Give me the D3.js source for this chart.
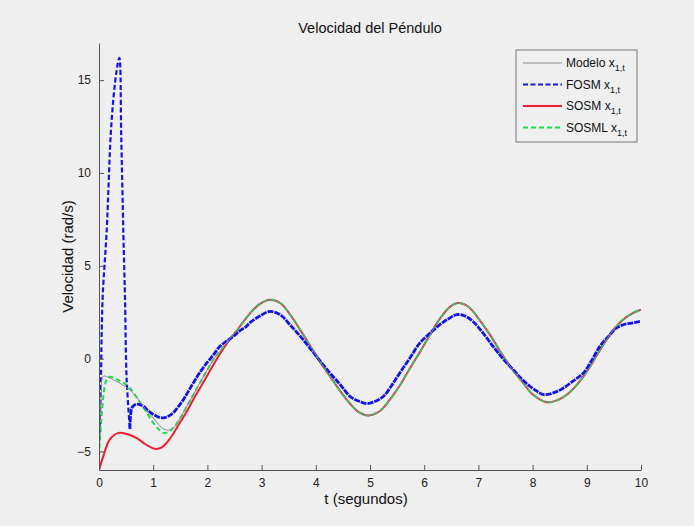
<!DOCTYPE html>
<html>
<head>
<meta charset="utf-8">
<script src="https://cdn.jsdelivr.net/npm/d3@7"></script>
<style>
  html, body { margin: 0; padding: 0; background: #efefef; }
  svg { display: block; font-family: "Liberation Sans", Arial, sans-serif; }
</style>
</head>
<body>
<svg id="chart" width="694" height="526"></svg>
<script>
// Pendulum angular velocity under four controllers (t in seconds, rad/s)
const modeloT = [0, 0.04, 0.08, 0.2, 0.4, 0.57, 0.7, 0.85, 1.0, 1.1, 1.2, 1.3, 1.4, 1.5, 1.62, 1.74, 1.86, 1.99, 2.11, 2.23, 2.38, 2.54, 2.79, 2.97, 3.155, 3.35, 3.52, 3.7, 3.89, 4.07, 4.26, 4.45, 4.63, 4.8, 4.97, 5.17, 5.37, 5.55, 5.74, 5.92, 6.11, 6.29, 6.48, 6.63, 6.82, 7.03, 7.22, 7.4, 7.58, 7.77, 8.01, 8.26, 8.45, 8.63, 8.82, 9.0, 9.18, 9.37, 9.52, 9.67, 9.85, 10.0];
const modeloV = [-4.5, -2.0, -0.95, -1.05, -1.35, -1.7, -2.1, -2.7, -3.2, -3.55, -3.8, -3.85, -3.65, -3.2, -2.56, -1.95, -1.31, -0.65, -0.05, 0.4, 0.95, 1.5, 2.45, 2.95, 3.17, 2.98, 2.4, 1.6, 0.72, -0.12, -0.95, -1.75, -2.42, -2.9, -3.06, -2.85, -2.2, -1.45, -0.5, 0.35, 1.3, 2.15, 2.8, 2.99, 2.78, 2.05, 1.25, 0.4, -0.4, -1.1, -1.95, -2.35, -2.25, -1.95, -1.4, -0.7, 0.15, 1.05, 1.65, 2.1, 2.45, 2.63];

const fosmT = [0, 0.03, 0.05, 0.07, 0.14, 0.23, 0.32, 0.375, 0.41, 0.45, 0.48, 0.51, 0.57, 0.6, 0.63, 0.7, 0.82, 0.9, 1.0, 1.1, 1.19, 1.28, 1.37, 1.46, 1.56, 1.65, 1.74, 1.86, 1.99, 2.11, 2.23, 2.36, 2.48, 2.6, 2.72, 2.79, 2.97, 3.155, 3.35, 3.52, 3.7, 3.89, 4.07, 4.26, 4.45, 4.63, 4.8, 4.94, 5.1, 5.25, 5.4, 5.55, 5.74, 5.92, 6.1, 6.29, 6.45, 6.6, 6.75, 6.9, 7.08, 7.27, 7.45, 7.64, 7.8, 7.95, 8.08, 8.2, 8.38, 8.57, 8.75, 8.94, 9.1, 9.24, 9.4, 9.55, 9.7, 9.85, 9.98];
const fosmV = [-4.5, -2.0, 1.5, 3.5, 6.8, 12.7, 15.4, 16.2, 12.0, 6.7, 3.2, -1.1, -3.8, -2.7, -2.56, -2.45, -2.56, -2.8, -3.0, -3.15, -3.19, -3.1, -2.92, -2.6, -2.2, -1.75, -1.31, -0.75, -0.23, 0.2, 0.66, 0.95, 1.2, 1.5, 1.74, 1.95, 2.3, 2.54, 2.35, 1.83, 1.25, 0.57, -0.1, -0.77, -1.4, -2.03, -2.3, -2.42, -2.3, -2.03, -1.45, -0.77, 0.05, 0.84, 1.35, 1.83, 2.15, 2.37, 2.3, 2.0, 1.4, 0.66, 0.0, -0.59, -1.1, -1.49, -1.75, -1.94, -1.85, -1.58, -1.2, -0.77, -0.05, 0.66, 1.2, 1.65, 1.85, 1.92, 2.0];

const sosmT = [0, 0.08, 0.2, 0.36, 0.5, 0.69, 0.85, 1.03, 1.15, 1.25, 1.37, 1.49, 1.62, 1.74, 1.87, 1.99, 2.11, 2.23, 2.38, 2.54, 2.79, 2.97, 3.155, 3.35, 3.52, 3.7, 3.89, 4.07, 4.26, 4.45, 4.63, 4.8, 4.97, 5.17, 5.37, 5.55, 5.74, 5.92, 6.11, 6.29, 6.48, 6.63, 6.82, 7.03, 7.22, 7.4, 7.58, 7.77, 8.01, 8.26, 8.45, 8.63, 8.82, 9.0, 9.18, 9.37, 9.52, 9.67, 9.85, 10.0];
const sosmV = [-6.0, -5.25, -4.35, -4.0, -4.05, -4.27, -4.6, -4.86, -4.8, -4.53, -4.05, -3.46, -2.85, -2.2, -1.55, -0.95, -0.33, 0.25, 0.9, 1.5, 2.45, 2.95, 3.17, 2.98, 2.4, 1.6, 0.72, -0.12, -0.95, -1.75, -2.42, -2.9, -3.06, -2.85, -2.2, -1.45, -0.5, 0.35, 1.3, 2.15, 2.8, 2.99, 2.78, 2.05, 1.25, 0.4, -0.4, -1.1, -1.95, -2.35, -2.25, -1.95, -1.4, -0.7, 0.15, 1.05, 1.65, 2.1, 2.45, 2.63];

const sosmlT = [0, 0.05, 0.1, 0.14, 0.2, 0.35, 0.54, 0.65, 0.76, 0.88, 1.0, 1.1, 1.19, 1.28, 1.37, 1.5, 1.62, 1.74, 1.86, 1.99, 2.11, 2.23, 2.38, 2.54, 2.79, 2.97, 3.155, 3.35, 3.52, 3.7, 3.89, 4.07, 4.26, 4.45, 4.63, 4.8, 4.97, 5.17, 5.37, 5.55, 5.74, 5.92, 6.11, 6.29, 6.48, 6.63, 6.82, 7.03, 7.22, 7.4, 7.58, 7.77, 8.01, 8.26, 8.45, 8.63, 8.82, 9.0, 9.18, 9.37, 9.52, 9.67, 9.85, 10.0];
const sosmlV = [-5.25, -3.0, -1.6, -1.13, -0.98, -1.15, -1.49, -1.9, -2.38, -2.9, -3.46, -3.8, -4.0, -3.95, -3.73, -3.2, -2.56, -1.95, -1.31, -0.65, -0.05, 0.4, 0.95, 1.5, 2.45, 2.95, 3.17, 2.98, 2.4, 1.6, 0.72, -0.12, -0.95, -1.75, -2.42, -2.9, -3.06, -2.85, -2.2, -1.45, -0.5, 0.35, 1.3, 2.15, 2.8, 2.99, 2.78, 2.05, 1.25, 0.4, -0.4, -1.1, -1.95, -2.35, -2.25, -1.95, -1.4, -0.7, 0.15, 1.05, 1.65, 2.1, 2.45, 2.63];

const xTicks = [0, 1, 2, 3, 4, 5, 6, 7, 8, 9, 10];
const yTicks = [-5, 0, 5, 10, 15];
const seriesNames = ["Modelo", "FOSM", "SOSM", "SOSML"];

const svg = d3.select("#chart");
const margin = { left: 99, right: 53, top: 43, bottom: 56 };
const W = 694, H = 526;

const x = d3.scaleLinear().domain([0, 10]).range([margin.left, W - margin.right]);
const y = d3.scaleLinear().domain([-6, 17]).range([H - margin.bottom, margin.top]);

const zip = (ts, vs) => ts.map((t, i) => [t, vs[i]]);
const line = d3.line().x(d => x(d[0])).y(d => y(d[1])).curve(d3.curveCatmullRom.alpha(0.5));

const series = [
  { name: seriesNames[0], data: zip(modeloT, modeloV), color: "#8a8a8a", width: 1, dash: null },
  { name: seriesNames[1], data: zip(fosmT, fosmV), color: "#1414e6", width: 2.2, dash: "5,2.5" },
  { name: seriesNames[2], data: zip(sosmT, sosmV), color: "#ee1c2e", width: 2, dash: null },
  { name: seriesNames[3], data: zip(sosmlT, sosmlV), color: "#18e04a", width: 2, dash: "5,3" }
];

svg.append("clipPath").attr("id", "plotclip").append("rect")
  .attr("x", margin.left).attr("y", margin.top)
  .attr("width", W - margin.left - margin.right)
  .attr("height", H - margin.top - margin.bottom);

const plot = svg.append("g").attr("clip-path", "url(#plotclip)");

function drawPath(data, s, dash, width) {
  plot.append("path")
    .datum(data)
    .attr("fill", "none")
    .attr("stroke", s.color)
    .attr("stroke-width", width)
    .attr("stroke-dasharray", dash)
    .attr("stroke-linejoin", "round")
    .attr("d", line);
}

// SOSM under SOSML, then FOSM and the model on top
drawPath(series[2].data, series[2], null, series[2].width);
drawPath(series[3].data, series[3], series[3].dash, series[3].width);
// FOSM: the dashed transient, then the chattering part which reads as a thick band
const fosm = series[1];
const jump = fosmT.indexOf(0.57);
drawPath(fosm.data.slice(0, jump + 1), fosm, fosm.dash, fosm.width);
drawPath(fosm.data.slice(jump), fosm, "6,1", 2.8);
drawPath(series[0].data, series[0], null, series[0].width);

// axes with inward ticks
const axisColor = "#555";
const xAxis = svg.append("g")
  .attr("transform", `translate(0,${y(-6)})`)
  .call(d3.axisBottom(x).tickValues(xTicks).tickSizeInner(-5).tickSizeOuter(0).tickPadding(8));
const yAxis = svg.append("g")
  .attr("transform", `translate(${x(0)},0)`)
  .call(d3.axisLeft(y).tickValues(yTicks).tickSizeInner(-5).tickSizeOuter(0).tickPadding(8));
[xAxis, yAxis].forEach(a => {
  a.select(".domain").attr("stroke", axisColor);
  a.selectAll(".tick line").attr("stroke", axisColor);
  a.selectAll(".tick text").attr("fill", "#222").style("font-size", "12px")
    .style("font-family", "'Liberation Sans', Arial, sans-serif");
});

// titles
svg.append("text")
  .attr("x", (x(0) + x(10)) / 2).attr("y", 33)
  .attr("text-anchor", "middle").attr("fill", "#111")
  .style("font-size", "14.5px").text("Velocidad del Péndulo");
svg.append("text")
  .attr("x", (x(0) + x(10)) / 2 - 4).attr("y", 504)
  .attr("text-anchor", "middle").attr("fill", "#111")
  .style("font-size", "15px").text("t (segundos)");
svg.append("text")
  .attr("transform", `translate(73,${(y(-6) + y(17)) / 2}) rotate(-90)`)
  .attr("text-anchor", "middle").attr("fill", "#111")
  .style("font-size", "15px").text("Velocidad (rad/s)");

// legend
const lg = svg.append("g").attr("transform", "translate(516,50)");
lg.append("rect").attr("width", 121).attr("height", 92)
  .attr("fill", "#efefef").attr("stroke", "#777").attr("stroke-width", 1);
series.forEach((s, i) => {
  const yy = 13 + i * 21.5;
  lg.append("line")
    .attr("x1", 7).attr("x2", 46).attr("y1", yy).attr("y2", yy)
    .attr("stroke", s.color).attr("stroke-width", s.width)
    .attr("stroke-dasharray", s.dash);
  const t = lg.append("text").attr("x", 50).attr("y", yy + 4)
    .attr("fill", "#111").style("font-size", "12px");
  t.append("tspan").text(s.name + " x");
  t.append("tspan").attr("dy", 4).style("font-size", "9px").text("1,t");
});
</script>
</body>
</html>
